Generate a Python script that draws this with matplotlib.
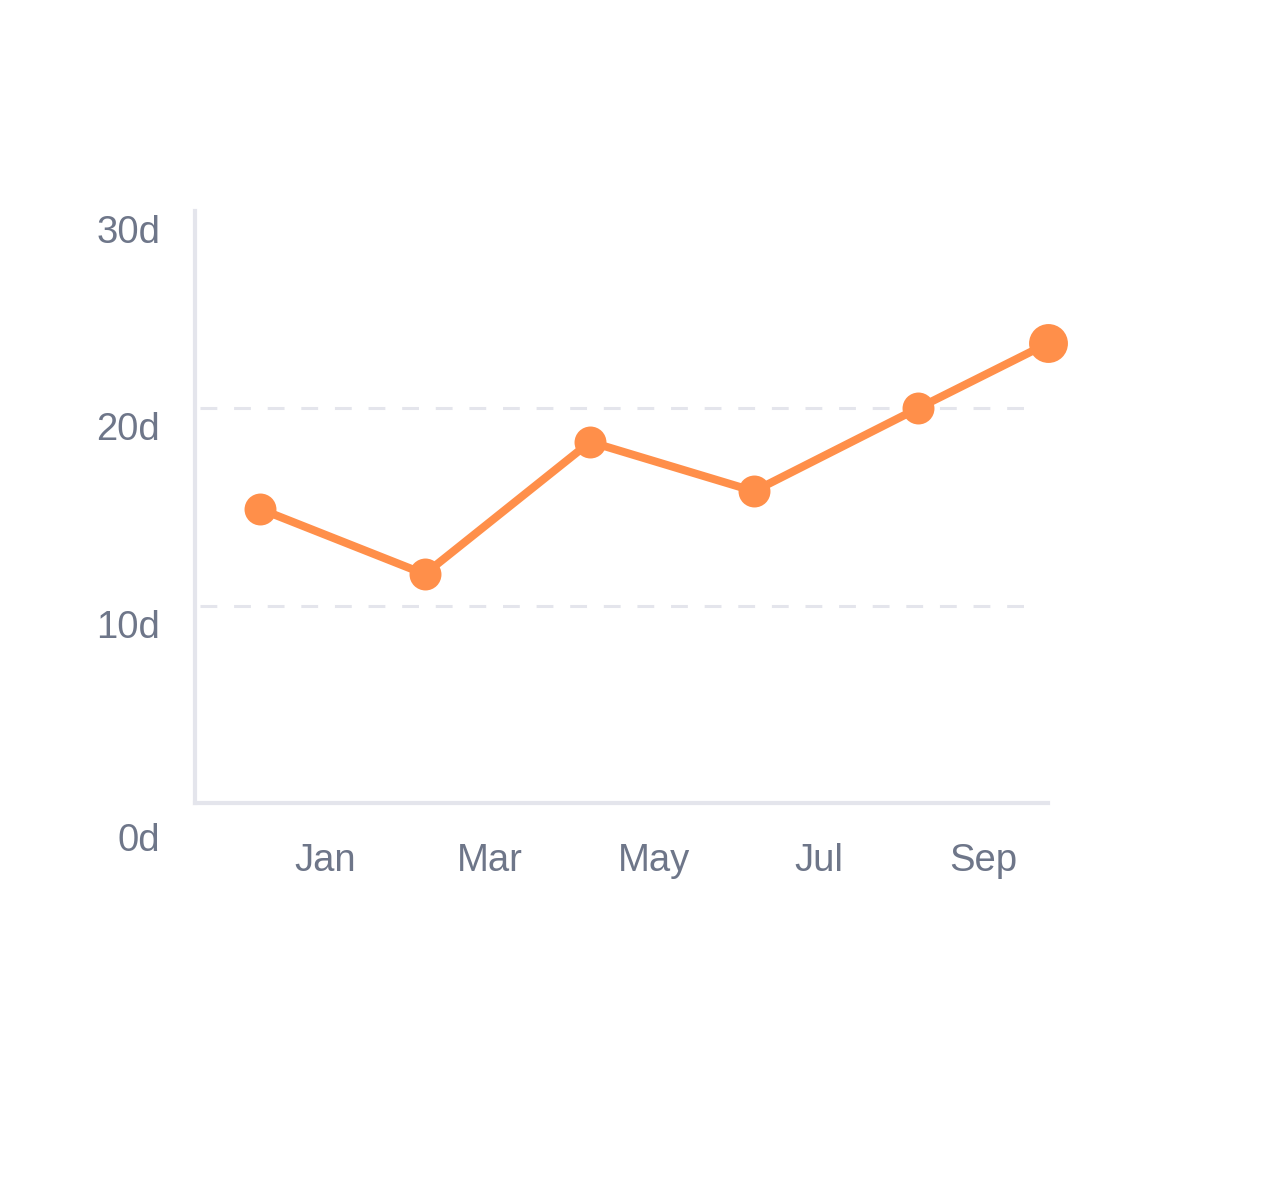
import matplotlib
matplotlib.use("Agg")
import matplotlib.pyplot as plt
from matplotlib.transforms import ScaledTranslation

# x positions in months (Jan = 1), values in days
months = [0.21, 2.21, 4.22, 6.21, 8.2, 9.78]
days = [14.9, 11.6, 18.3, 15.8, 20.0, 23.3]
xtick_pos = [1, 3, 5, 7, 9]
xtick_labels = ["Jan", "Mar", "May", "Jul", "Sep"]
ytick_pos = [0, 10, 20, 30]
ytick_labels = ["0d", "10d", "20d", "30d"]
grid_levels = [10, 20]

ORANGE = "#ff8f4a"
AXIS = "#e4e5ec"
TEXT = "#6e7689"

plt.rcParams["font.family"] = ["Liberation Sans", "DejaVu Sans"]

fig = plt.figure(figsize=(12.73, 12.0), dpi=100)
ax = fig.add_axes([195 / 1273, 1 - 803 / 1200, (1048 - 195) / 1273, (803 - 211) / 1200])

ax.set_xlim(-0.58, 9.78)
ax.set_ylim(0, 30)

for lvl in grid_levels:
    ax.hlines(lvl, -0.52, 9.68, colors=AXIS, linewidth=2.2,
              linestyles=(0, (5.5, 5.5)), zorder=1)

ax.plot(months[:-1], days[:-1], color=ORANGE, linewidth=5.8, marker="o",
        markersize=23, markeredgewidth=0, zorder=3, clip_on=False)
ax.plot(months[-2:], days[-2:], color=ORANGE, linewidth=5.8, zorder=3, clip_on=False)
ax.plot(months[-1:], days[-1:], color=ORANGE, marker="o", markersize=28,
        markeredgewidth=0, zorder=4, clip_on=False)

for side in ["top", "right"]:
    ax.spines[side].set_visible(False)
for side in ["left", "bottom"]:
    ax.spines[side].set_color(AXIS)
    ax.spines[side].set_linewidth(3)

ax.set_xticks(xtick_pos)
ax.set_xticklabels(xtick_labels)
ax.set_yticks(ytick_pos)
ax.set_yticklabels(ytick_labels)
ax.tick_params(axis="both", length=0, labelsize=27.5, labelcolor=TEXT)
ax.tick_params(axis="x", pad=29)
ax.tick_params(axis="y", pad=25)

# labels sit a little below their grid lines, the zero label lower still
for lab, pos in zip(ax.get_yticklabels(), ytick_pos):
    dy = 0.34 if pos == 0 else 0.18
    lab.set_transform(lab.get_transform() + ScaledTranslation(0, -dy, fig.dpi_scale_trans))

fig.savefig("out.png", dpi=100, facecolor="white")
